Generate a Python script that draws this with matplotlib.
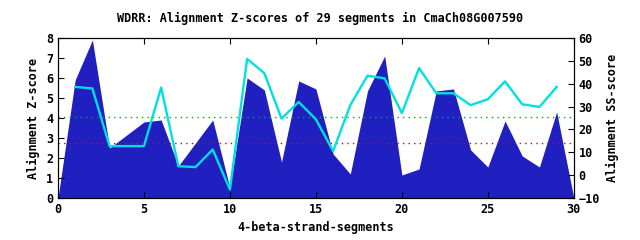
import numpy as np
import matplotlib
matplotlib.use("Agg")
import matplotlib.pyplot as plt

# Z-score per segment position (filled area, left axis)
seg_x = list(range(0, 31))
zscore = [0.0, 5.9, 7.9, 2.5, 3.15, 3.8, 3.9, 1.6, 2.75, 3.9, 0.5,
          6.0, 5.4, 1.8, 5.85, 5.45, 2.2, 1.2, 5.35, 7.1, 1.15,
          1.45, 5.35, 5.45, 2.4, 1.55, 3.85, 2.1, 1.55, 4.3, 0.0]

# SS-score (cyan line, right axis), segments 1..29
ss_x = list(range(1, 30))
ss_score = [38.6, 37.9, 12.7, 12.7, 12.7, 38.3, 3.9, 3.5, 11.2, -6.3,
            50.8, 44.6, 24.7, 32.0, 24.4, 10.5, 30.6, 43.5, 42.3, 27.1,
            46.8, 35.8, 35.8, 30.6, 33.2, 41.0, 31.0, 29.8, 38.6]

green_level = 4.05
red_level = 2.75

mono = "DejaVu Sans Mono"

fig = plt.figure(figsize=(6.4, 2.4), dpi=100)
ax = fig.add_axes([0.0906, 0.175, 0.806, 0.667])

ax.fill_between(seg_x, zscore, 0, color="#2020c0", linewidth=0)
ax.axhline(green_level, color="#00b000", linestyle=(0, (1, 3)), linewidth=1)
ax.axhline(red_level, color="#e00000", linestyle=(0, (1, 3)), linewidth=1)

ax.set_xlim(0, 30)
ax.set_ylim(0, 8)
ax.set_xticks(range(0, 31, 5))
ax.set_yticks(range(0, 9))
ax.set_xlabel("4-beta-strand-segments", fontfamily=mono, fontsize=8.5, fontweight="bold")
ax.set_ylabel("Alignment Z-score", fontfamily=mono, fontsize=8.5, fontweight="bold")

ax2 = ax.twinx()
ax2.plot(ss_x, ss_score, color="#00e0e0", linewidth=1.7)
ax2.set_ylim(-10, 60)
ax2.set_yticks(range(-10, 61, 10))
ax2.set_ylabel("Alignment SS-score", fontfamily=mono, fontsize=8.5, fontweight="bold")

for a in (ax, ax2):
    a.tick_params(direction="in", length=4, labelsize=8.5)
    for lab in a.get_xticklabels() + a.get_yticklabels():
        lab.set_fontfamily(mono)
        lab.set_fontweight("bold")
ax.tick_params(top=True)

fig.suptitle("WDRR: Alignment Z-scores of 29 segments in CmaCh08G007590",
             fontfamily=mono, fontsize=8.5, fontweight="bold", y=0.95)

fig.savefig("out.png", dpi=100)
